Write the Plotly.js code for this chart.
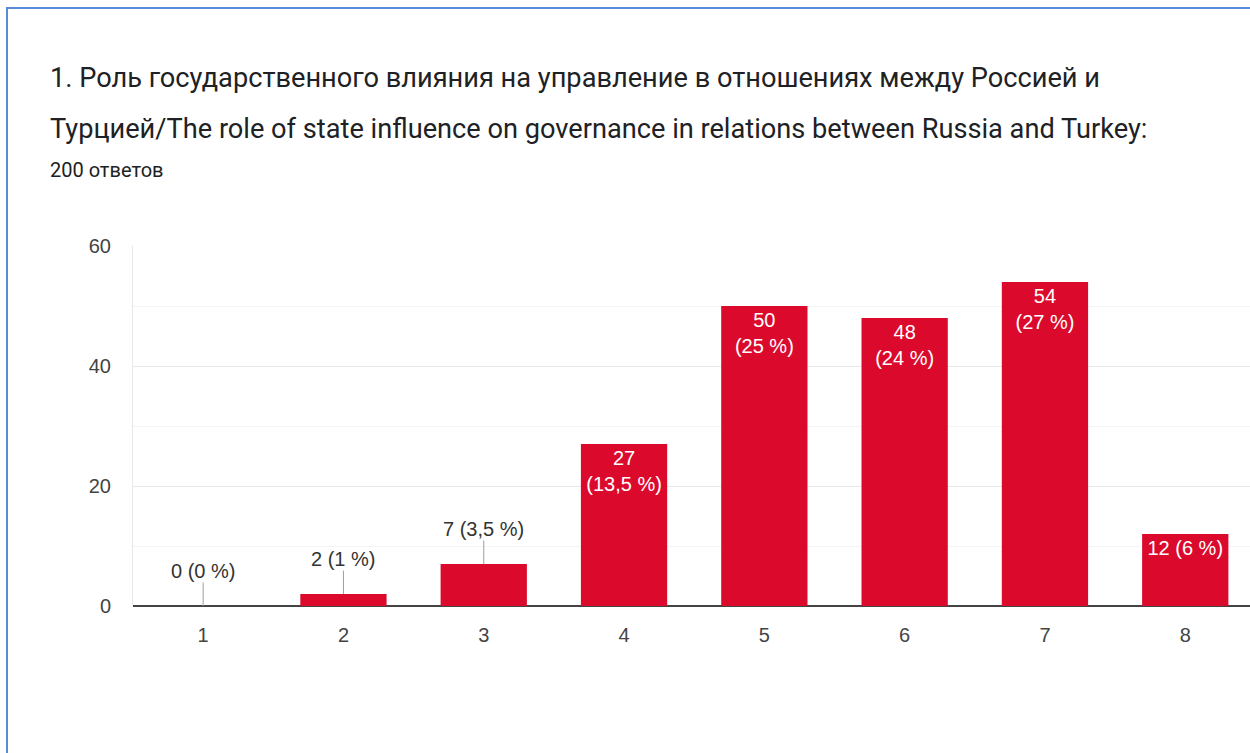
<!DOCTYPE html>
<html>
<head>
<meta charset="utf-8">
<script src="https://cdn.plot.ly/plotly-3.0.1.min.js"></script>
<style>html,body{margin:0;padding:0;background:#fff;overflow:hidden}#chart{width:1250px;height:753px}</style>
</head>
<body>
<div id="chart"></div>
<script>
// Data
const categories = [1, 2, 3, 4, 5, 6, 7, 8];
const counts = [0, 2, 7, 27, 50, 48, 54, 12];
const percents = ['0 %', '1 %', '3,5 %', '13,5 %', '25 %', '24 %', '27 %', '6 %'];
const titleLine1 = '1. Роль государственного влияния на управление в отношениях между Россией и';
const titleLine2 = 'Турцией/The role of state influence on governance in relations between Russia and Turkey:';
const subtitle = '200 ответов';

const RED = '#db0a2d';
const TFONT = 'Roboto, Arial, sans-serif';
const LFONT = '"Liberation Sans", Arial, sans-serif';

// layout geometry (pixels)
const W = 1250, H = 753;
const mL = 133, mR = 0, mT = 246, mB = 147;
const pw = W - mL - mR, ph = H - mT - mB;
const px2x = p => (p - mL) / pw;
const py2y = p => (H - mB - p) / ph;

const insideText = counts.map((c, i) => {
  if (c < 10) return '';
  if (c < 20) return c + ' (' + percents[i] + ')';
  return c + '<br>(' + percents[i] + ')';
});

const trace = {
  type: 'bar',
  x: categories,
  y: counts,
  width: 0.615,
  marker: {color: RED, line: {width: 0}},
  text: insideText,
  textposition: 'inside',
  insidetextanchor: 'end',
  textangle: 0,
  constraintext: 'none',
  insidetextfont: {family: LFONT, size: 20, color: '#ffffff'},
  hoverinfo: 'none',
  cliponaxis: false
};

const annotations = [];
counts.forEach((c, i) => {
  if (c < 10) {
    annotations.push({
      x: categories[i], y: c, xref: 'x', yref: 'y',
      text: c + ' (' + percents[i] + ')',
      showarrow: true, arrowhead: 0, arrowwidth: 1, arrowcolor: '#9e9e9e',
      ax: 0, ay: -35, standoff: 0, borderpad: 0,
      font: {family: LFONT, size: 20, color: '#333333'}
    });
  }
});
annotations.push(
  {xref: 'paper', yref: 'paper', x: px2x(48), y: py2y(78), xanchor: 'left', yanchor: 'middle',
   text: titleLine1, showarrow: false, font: {family: TFONT, size: 27.2, color: '#202124'}},
  {xref: 'paper', yref: 'paper', x: px2x(48), y: py2y(129), xanchor: 'left', yanchor: 'middle',
   text: titleLine2, showarrow: false, font: {family: TFONT, size: 27.2, color: '#202124'}},
  {xref: 'paper', yref: 'paper', x: px2x(48), y: py2y(170), xanchor: 'left', yanchor: 'middle',
   text: subtitle, showarrow: false, font: {family: TFONT, size: 20, color: '#202124'}}
);

const layout = {
  width: W, height: H,
  margin: {l: mL, r: mR, t: mT, b: mB, pad: 0},
  paper_bgcolor: '#ffffff', plot_bgcolor: '#ffffff',
  showlegend: false,
  font: {family: LFONT},
  xaxis: {
    range: [0.5, 0.5 + pw / 140.3],
    tickvals: categories, ticktext: categories.map(String),
    showgrid: false, zeroline: false, showline: false, ticks: '',
    ticklabelstandoff: 15,
    tickfont: {family: LFONT, size: 20, color: '#444444'},
    fixedrange: true
  },
  yaxis: {
    range: [0, 60], dtick: 20, tick0: 0,
    showgrid: true, gridcolor: '#e8e8e8', gridwidth: 1,
    minor: {dtick: 10, showgrid: true, gridcolor: '#f4f4f4', gridwidth: 1},
    zeroline: true, zerolinecolor: '#444444', zerolinewidth: 2,
    showline: true, linecolor: '#e8e8e8', linewidth: 1,
    ticks: '', ticklabelstandoff: 17,
    tickfont: {family: LFONT, size: 20, color: '#444444'},
    fixedrange: true
  },
  annotations: annotations,
  shapes: [
    {type: 'rect', xref: 'paper', yref: 'paper', layer: 'above',
     x0: px2x(7), x1: px2x(1270), y0: py2y(780), y1: py2y(8),
     line: {color: '#5a8ad8', width: 2}, fillcolor: 'rgba(0,0,0,0)'}
  ]
};

Plotly.newPlot('chart', [trace], layout, {displayModeBar: false, staticPlot: true});
</script>
</body>
</html>
